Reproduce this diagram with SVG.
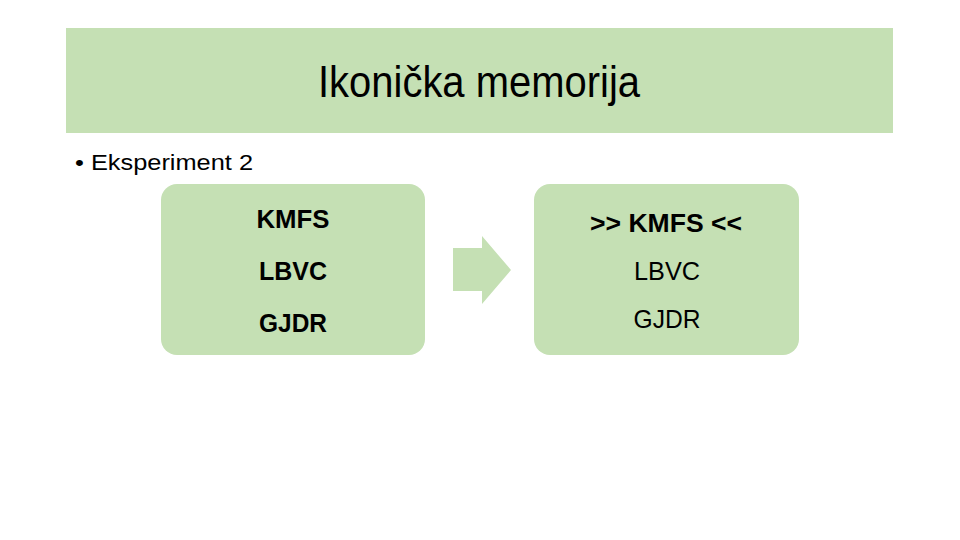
<svg xmlns="http://www.w3.org/2000/svg" width="960" height="540" viewBox="0 0 960 540">
<style>
.fill{fill:#c5e0b4}
.t{font-family:"Liberation Sans",Arial,sans-serif;fill:#000;text-anchor:middle}
.b{font-weight:bold}
</style>
<rect width="960" height="540" fill="#fff"/>
<g id="title">
<rect class="fill" x="66" y="28" width="827" height="105"/>
<text class="t" x="479" y="97" font-size="45" textLength="322" lengthAdjust="spacingAndGlyphs">Ikonička memorija</text>
</g>
<g id="bullet">
<text x="75" y="170" font-family="'Liberation Sans',Arial,sans-serif" font-size="22" textLength="178" lengthAdjust="spacingAndGlyphs">• Eksperiment 2</text>
</g>
<g id="left-box">
<rect class="fill" x="161" y="184" width="264" height="171" rx="16"/>
<text class="t b" x="293" y="228" font-size="25" textLength="73" lengthAdjust="spacingAndGlyphs">KMFS</text>
<text class="t b" x="293" y="280" font-size="25" textLength="68" lengthAdjust="spacingAndGlyphs">LBVC</text>
<text class="t b" x="293" y="332" font-size="25" textLength="68" lengthAdjust="spacingAndGlyphs">GJDR</text>
</g>
<g id="connectors">
<polygon class="fill" points="453,248 482,248 482,236 511,270 482,304 482,291 453,291"/>
</g>
<g id="right-box">
<rect class="fill" x="534" y="184" width="265" height="171" rx="16"/>
<text class="t b" x="666" y="232" font-size="25" textLength="152" lengthAdjust="spacingAndGlyphs">&gt;&gt; KMFS &lt;&lt;</text>
<text class="t" x="667" y="280" font-size="26" textLength="66" lengthAdjust="spacingAndGlyphs">LBVC</text>
<text class="t" x="667" y="328" font-size="26" textLength="67" lengthAdjust="spacingAndGlyphs">GJDR</text>
</g>
</svg>
